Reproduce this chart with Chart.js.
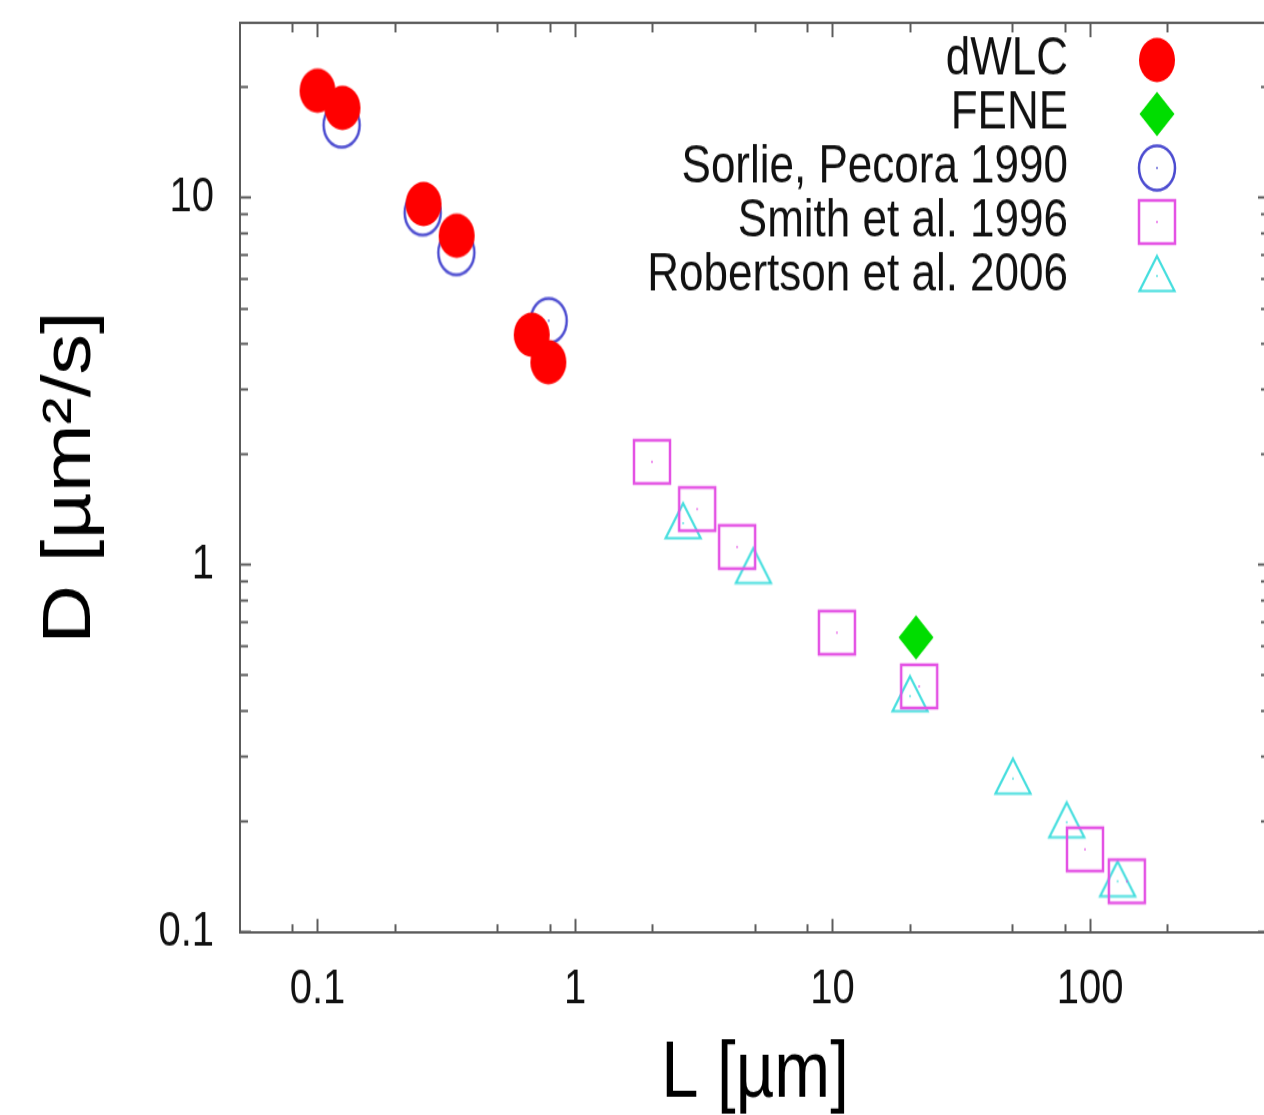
<!DOCTYPE html>
<html>
<head>
<meta charset="utf-8">
<title>Diffusion coefficient vs. contour length</title>
<script src="https://cdn.jsdelivr.net/npm/chart.js@4.4.1/dist/chart.umd.min.js"></script>
<style>
  html { margin: 0; padding: 0; background: #fff; overflow: hidden; width: 1264px; height: 1115px; }
  body { margin: 0; padding: 0; background: #fff; width: 1264px; height: 1115px; }
  /* the figure is laid out at 1290x929 and shown stretched vertically */
  #wrap { width: 1290px; height: 929px; transform: scaleY(1.2); transform-origin: 0 0; }
</style>
</head>
<body>
<div id="wrap"><canvas id="chart" width="1290" height="929"></canvas></div>
<script>
// ---- series: L [µm] and D [µm^2/s] ----
const seriesNames = ['dWLC', 'FENE', 'Sorlie, Pecora 1990', 'Smith et al. 1996', 'Robertson et al. 2006'];

const dwlcL = [0.1, 0.125, 0.258, 0.347, 0.679, 0.788];
const dwlcD = [19.6, 17.6, 9.63, 7.89, 4.24, 3.57];

const feneL = [21.1];
const feneD = [0.635];

const sorlieL = [0.124, 0.256, 0.346, 0.790];
const sorlieD = [15.8, 9.11, 7.10, 4.63];

const smithL = [1.99, 2.98, 4.26, 10.4, 21.7, 95.6, 139];
const smithD = [1.91, 1.42, 1.12, 0.654, 0.467, 0.168, 0.1375];

const robertsonL = [2.63, 4.93, 20.0, 50.2, 81.2, 128];
const robertsonD = [1.30, 0.981, 0.439, 0.262, 0.199, 0.1375];

// ---- axes ----
const xMajorTicks = [0.1, 1, 10, 100];
const xTickLabels = ['0.1', '1', '10', '100'];
const xMinorTicks = [0.08, 0.2, 0.5, 0.8, 2, 5, 8, 20, 50, 80, 200];

const yMajorTicks = [0.1, 1, 10];
const yTickLabels = ['0.1', '1', '10'];
const yMinorTicks = [0.2, 0.3, 0.4, 0.5, 0.6, 0.7, 0.8, 0.9, 2, 3, 4, 5, 6, 7, 8, 9, 20];

const xTitle = 'L [µm]';
const yTitle = 'D [µm²/s]';

// ---- marker glyphs (gnuplot-like point types) ----
function makeMarker(kind, color) {
  const c = document.createElement('canvas');
  c.width = 48; c.height = 48;
  const g = c.getContext('2d');
  const cx = 24, cy = 24;
  g.fillStyle = color;
  g.strokeStyle = color;
  g.lineJoin = 'miter';
  if (kind === 'disc') {
    g.beginPath(); g.ellipse(cx, cy, 18, 18.5, 0, 0, Math.PI * 2); g.fill();
  } else if (kind === 'diamond') {
    g.beginPath();
    g.moveTo(cx, cy - 18.5); g.lineTo(cx + 17.5, cy); g.lineTo(cx, cy + 18.5); g.lineTo(cx - 17.5, cy);
    g.closePath(); g.fill();
  } else if (kind === 'ring') {
    g.lineWidth = 2.5;
    g.beginPath(); g.ellipse(cx, cy, 18, 18.5, 0, 0, Math.PI * 2); g.stroke();
  } else if (kind === 'square') {
    g.lineWidth = 2.5;
    g.strokeRect(cx - 18, cy - 18, 36, 36);
  } else if (kind === 'triangle') {
    g.lineWidth = 2.2;
    g.beginPath();
    g.moveTo(cx, cy - 16.5); g.lineTo(cx + 17.5, cy + 12.5); g.lineTo(cx - 17.5, cy + 12.5);
    g.closePath(); g.stroke();
  }
  if (kind === 'ring' || kind === 'square' || kind === 'triangle') {
    g.globalAlpha = 0.6;
    g.fillRect(cx - 1, cy - 1, 2, 2);
  }
  return c;
}

const colors = ['#ff0000', '#00dd00', '#4c4cd0', '#e452e4', '#45dede'];
const markers = [
  makeMarker('disc', colors[0]),
  makeMarker('diamond', colors[1]),
  makeMarker('ring', colors[2]),
  makeMarker('square', colors[3]),
  makeMarker('triangle', colors[4])
];

function pairs(xs, ys) { return xs.map((x, i) => ({ x: x, y: ys[i] })); }

const datasets = [
  [dwlcL, dwlcD], [feneL, feneD], [sorlieL, sorlieD], [smithL, smithD], [robertsonL, robertsonD]
].map((s, i) => ({
  label: seriesNames[i],
  data: pairs(s[0], s[1]),
  pointStyle: markers[i],
  pointRadius: 18,
  pointHoverRadius: 18,
  backgroundColor: colors[i],
  borderColor: colors[i],
  showLine: false
}));

const FONT = "'Liberation Sans', Arial, Helvetica, sans-serif";
const axisColor = '#5c5c5c';
const X_RANGE = { min: 0.05, max: 500 };
const Y_RANGE = { min: 0.1, max: 30 };

function setTicks(values) {
  return (scale) => { scale.ticks = values.map(v => ({ value: v })); };
}
function fixSize(prop, size) {
  return (scale) => {
    scale[prop] = size;
    scale.paddingLeft = 0; scale.paddingRight = 0; scale.paddingTop = 0; scale.paddingBottom = 0;
  };
}
// border-only companion axes that carry tick marks drawn inwards
function tickAxis(position, values, length, weight, border) {
  const horizontal = position === 'top' || position === 'bottom';
  const range = horizontal ? X_RANGE : Y_RANGE;
  return {
    type: 'logarithmic',
    position: position,
    weight: weight,
    min: range.min, max: range.max,
    bounds: 'data',
    afterBuildTicks: setTicks(values),
    afterFit: fixSize(horizontal ? 'height' : 'width', 0),
    grid: { display: true, drawOnChartArea: false, drawTicks: true, tickLength: -length, tickColor: axisColor, tickWidth: 2 },
    border: { display: border, color: axisColor, width: 2 },
    ticks: { display: false, autoSkip: false }
  };
}

// places the key in the upper right corner of the plot, text to the left of each symbol
const keyPlacement = {
  id: 'keyPlacement',
  afterLayout(chart) {
    const lg = chart.legend, a = chart.chartArea;
    if (!lg) return;
    lg.left = a.left; lg.right = 1225; lg.width = 1225 - a.left;
    lg.top = 27; lg.bottom = a.bottom; lg.height = a.bottom - 27;
  }
};

new Chart(document.getElementById('chart'), {
  type: 'scatter',
  data: { datasets: datasets },
  plugins: [keyPlacement],
  options: {
    responsive: false,
    devicePixelRatio: 1,
    animation: false,
    events: [],
    layout: { padding: { left: 0, top: 15, right: 20, bottom: 0 } },
    plugins: {
      tooltip: { enabled: false },
      legend: {
        position: 'chartArea',
        align: 'start',
        rtl: true,
        labels: {
          usePointStyle: true,
          pointStyleWidth: 134,
          padding: 1,
          color: '#111',
          font: { family: FONT, size: 44 }
        }
      }
    },
    scales: {
      x: {
        type: 'logarithmic',
        position: 'bottom',
        weight: 1,
        min: X_RANGE.min, max: X_RANGE.max,
        bounds: 'data',
        afterBuildTicks: setTicks(xMajorTicks),
        afterFit: fixSize('height', 152.3),
        grid: { display: true, drawOnChartArea: false, drawTicks: true, tickLength: -11, tickColor: axisColor, tickWidth: 2 },
        border: { display: true, color: axisColor, width: 2 },
        ticks: {
          autoSkip: false, maxRotation: 0, padding: 35, color: '#111',
          font: { family: FONT, size: 40 },
          callback: (v) => xTickLabels[xMajorTicks.indexOf(v)]
        },
        title: {
          display: true, text: xTitle, color: '#000',
          font: { family: FONT, size: 67, lineHeight: 1 },
          padding: { top: 8.5, bottom: 0 }
        }
      },
      xm: tickAxis('bottom', xMinorTicks, 6.5, 0, false),
      x2: tickAxis('top', xMajorTicks, 12, 1, true),
      x2m: tickAxis('top', xMinorTicks, 8, 0, false),
      y: {
        type: 'logarithmic',
        position: 'left',
        weight: 1,
        min: Y_RANGE.min, max: Y_RANGE.max,
        bounds: 'data',
        afterBuildTicks: setTicks(yMajorTicks),
        afterFit: fixSize('width', 240),
        grid: { display: true, drawOnChartArea: false, drawTicks: true, tickLength: -11, tickColor: axisColor, tickWidth: 2 },
        border: { display: true, color: axisColor, width: 2 },
        ticks: {
          autoSkip: false, padding: 37, color: '#111',
          font: { family: FONT, size: 40 },
          callback: (v) => yTickLabels[yMajorTicks.indexOf(v)]
        },
        title: {
          display: true, text: yTitle, color: '#000',
          font: { family: FONT, size: 68, lineHeight: 1 },
          padding: { top: 37, bottom: 0 }
        }
      },
      ym: tickAxis('left', yMinorTicks, 8, 0, false),
      y2: tickAxis('right', yMajorTicks, 12, 1, true),
      y2m: tickAxis('right', yMinorTicks, 9, 0, false)
    }
  }
});
</script>
</body>
</html>
